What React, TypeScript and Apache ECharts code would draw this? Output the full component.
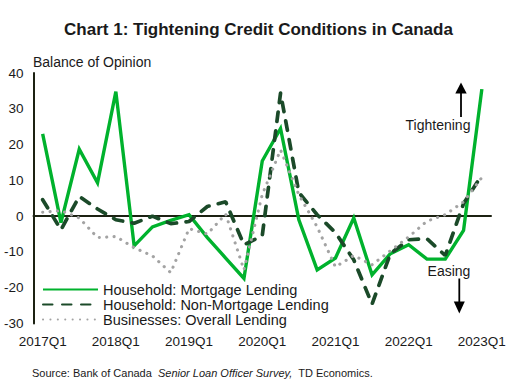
import React, { useEffect, useRef } from "react";
import * as echarts from "echarts";

const quarters = [
  "2017Q1", "2017Q2", "2017Q3", "2017Q4",
  "2018Q1", "2018Q2", "2018Q3", "2018Q4",
  "2019Q1", "2019Q2", "2019Q3", "2019Q4",
  "2020Q1", "2020Q2", "2020Q3", "2020Q4",
  "2021Q1", "2021Q2", "2021Q3", "2021Q4",
  "2022Q1", "2022Q2", "2022Q3", "2022Q4",
  "2023Q1",
];

const mortgage = [
  23, -1.8, 18.7, 9.3,
  34.8, -8.3, -3, -1.2,
  0.4, -6, -11.7, -17.4,
  15.4, 24.5, -1, -15,
  -11.7, -0.5, -16.4, -10.5,
  -8, -12, -12, -4,
  35.5,
];

const nonMortgage = [
  4.6, -3.8, 5.5, 2,
  -1, -2, 0, -2.1,
  -1.5, 2.7, 4, -8,
  -5.5, 34.4, 6.6, 0.4,
  -4.6, -12.2, -24.6, -10.5,
  -6.6, -6.3, -11, 3.5,
  11.5,
];

const businesses = [
  1.1, 1.5, -0.5, -6,
  -5.7, -8.8, -11.1, -15.8,
  -3.5, -5, 0.6, -15,
  6, 18.5, 6, -3,
  -14.2, -11, -13.6, -9.7,
  -5.8, -1.4, 0.4, 4,
  10.8,
];

const seriesNames = [
  "Household: Mortgage Lending",
  "Household: Non-Mortgage Lending",
  "Businesses: Overall Lending",
];

const FONT = "'Liberation Sans', Arial, sans-serif";
const TEXT = "#1a1a1a";
const AXIS = "#1c2112";

export default function App() {
  const ref = useRef<HTMLDivElement>(null);

  useEffect(() => {
    if (!ref.current) return;
    const chart = echarts.init(ref.current, undefined, { renderer: "svg" });
    chart.setOption({
      animation: false,
      backgroundColor: "#ffffff",
      textStyle: { fontFamily: FONT },
      title: {
        text: "Chart 1: Tightening Credit Conditions in Canada",
        left: "center",
        top: 16,
        textStyle: { fontFamily: FONT, fontSize: 17, fontWeight: "bold", color: TEXT },
      },
      grid: { left: 33.5, right: 26, top: 73, bottom: 61.5, containLabel: false },
      legend: {
        orient: "vertical",
        left: 37,
        top: 277,
        itemWidth: 55,
        itemHeight: 12,
        itemGap: 0,
        data: seriesNames,
        itemStyle: { color: "transparent", borderColor: "transparent", borderWidth: 0 },
        textStyle: { fontFamily: FONT, fontSize: 14.5, color: TEXT, lineHeight: 14.5 },
      },
      xAxis: [
        {
          type: "category",
          data: quarters,
          boundaryGap: true,
          position: "bottom",
          axisLine: { show: false, onZero: false },
          axisTick: { show: false },
          axisLabel: {
            interval: 3,
            margin: 11,
            fontFamily: FONT,
            fontSize: 13.5,
            color: TEXT,
          },
          splitLine: { show: false },
        },
        {
          type: "category",
          data: quarters,
          boundaryGap: true,
          position: "top",
          axisLine: { show: true, onZero: true, lineStyle: { color: AXIS, width: 2 } },
          axisTick: { show: false },
          axisLabel: { show: false },
          splitLine: { show: false },
        },
      ],
      yAxis: {
        type: "value",
        min: -30,
        max: 40,
        interval: 10,
        axisLine: { show: true, lineStyle: { color: AXIS, width: 2 } },
        axisTick: { show: false },
        splitLine: { show: false },
        axisLabel: { margin: 10, fontFamily: FONT, fontSize: 13.5, color: TEXT },
      },
      series: [
        {
          name: seriesNames[0],
          type: "line",
          data: mortgage,
          symbol: "none",
          lineStyle: { color: "#00b22d", width: 3.4, type: "solid", join: "miter" },
          itemStyle: { color: "#00b22d" },
          z: 3,
        },
        {
          name: seriesNames[1],
          type: "line",
          data: nonMortgage,
          symbol: "none",
          lineStyle: { color: "#1b4a29", width: 3.7, type: [9.5, 9.5], cap: "round" },
          itemStyle: { color: "#1b4a29" },
          z: 4,
        },
        {
          name: seriesNames[2],
          type: "line",
          data: businesses,
          symbol: "none",
          lineStyle: { color: "#a3a3a3", width: 3.1, type: [0.1, 7.3], cap: "round" },
          itemStyle: { color: "#a3a3a3" },
          z: 5,
        },
      ],
      graphic: [
        {
          type: "text",
          left: 33,
          top: 55,
          style: { text: "Balance of Opinion", fontFamily: FONT, fontSize: 14, fill: TEXT },
        },
        {
          type: "text",
          x: 438,
          y: 125,
          style: {
            text: "Tightening",
            fontFamily: FONT,
            fontSize: 14,
            fill: TEXT,
            textAlign: "center",
            textVerticalAlign: "middle",
          },
        },
        {
          type: "line",
          shape: { x1: 461, y1: 117, x2: 461, y2: 93 },
          style: { stroke: "#000", lineWidth: 1.8 },
        },
        {
          type: "polygon",
          shape: { points: [[455.3, 93.5], [466.7, 93.5], [461, 82.5]] },
          style: { fill: "#000" },
        },
        {
          type: "text",
          x: 449,
          y: 271,
          style: {
            text: "Easing",
            fontFamily: FONT,
            fontSize: 14,
            fill: TEXT,
            textAlign: "center",
            textVerticalAlign: "middle",
          },
        },
        {
          type: "line",
          shape: { x1: 459.3, y1: 278.5, x2: 459.3, y2: 302 },
          style: { stroke: "#000", lineWidth: 1.8 },
        },
        {
          type: "polygon",
          shape: { points: [[453.8, 301.5], [464.8, 301.5], [459.3, 313.5]] },
          style: { fill: "#000" },
        },
        {
          type: "text",
          x: 32,
          y: 373,
          style: {
            text: "{n|Source: Bank of Canada  }{i|Senior Loan Officer Survey,}{n|  TD Economics.}",
            textVerticalAlign: "middle",
            rich: {
              n: { fontFamily: FONT, fontSize: 11, fill: TEXT },
              i: { fontFamily: FONT, fontSize: 11, fontStyle: "italic", fill: TEXT },
            },
          },
        },
      ],
    });
    return () => chart.dispose();
  }, []);

  return (
    <div
      ref={ref}
      style={{ position: "fixed", left: 0, top: 0, width: 517, height: 385, background: "#fff" }}
    />
  );
}
